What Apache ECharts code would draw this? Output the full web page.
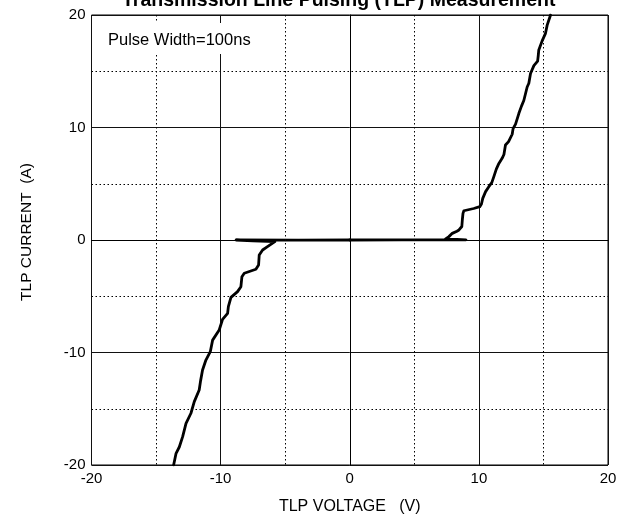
<!DOCTYPE html>
<html>
<head>
<meta charset="utf-8">
<script src="https://cdn.jsdelivr.net/npm/echarts@6/dist/echarts.min.js"></script>
<style>
html,body{margin:0;padding:0;background:#fff;}
#chart{width:624px;height:520px;}
</style>
</head>
<body>
<div id="chart"></div>
<script>
const titleText = 'Transmission Line Pulsing (TLP) Measurement';
const noteText = 'Pulse Width=100ns';
const xName = 'TLP VOLTAGE   (V)';
const yName = 'TLP CURRENT  (A)';
const xTicks = [-20, -10, 0, 10, 20];
const yTicks = [-20, -10, 0, 10, 20];

// positive pulse sweep: [voltage V, current A]
const positiveSweep = [
  [0,0],[4,0.01],[9.0,0.02],[8.3,0.06],[7.4,0.08],[7.5,0.2],[7.68,0.3],[7.94,0.59],
  [8.3,0.78],[8.46,0.89],[8.68,1.2],[8.72,1.8],[8.77,2.37],[8.84,2.6],[9.6,2.8],
  [10.07,2.96],[10.2,3.2],[10.3,3.7],[10.52,4.3],[10.77,4.74],[11.0,5.1],[11.16,5.63],
  [11.35,6.3],[11.55,6.81],[11.8,7.26],[11.94,7.6],[12.06,8.44],[12.3,8.75],[12.45,8.89],
  [12.58,9.4],[12.65,9.9],[12.84,10.3],[13.1,11.26],[13.3,11.9],[13.48,12.4],[13.74,13.6],
  [13.87,13.93],[14.0,14.8],[14.26,15.5],[14.55,15.9],[14.6,16.4],[14.64,16.89],[14.9,17.7],
  [15.16,18.37],[15.29,19.1],[15.55,20]
];
// negative pulse sweep: [voltage V, current A]
const negativeSweep = [
  [0,0],[-4,-0.01],[-8.8,0.0],[-7.5,-0.08],[-5.8,-0.15],[-5.85,-0.24],[-6.37,-0.59],
  [-6.75,-0.89],[-7.01,-1.33],[-7.06,-2.22],[-7.27,-2.6],[-8.17,-2.96],[-8.35,-3.26],
  [-8.43,-4.15],[-8.69,-4.59],[-9.2,-5.1],[-9.4,-5.93],[-9.46,-6.52],[-9.85,-7.05],
  [-10.11,-8.0],[-10.62,-8.9],[-10.8,-9.93],[-11.14,-10.67],[-11.4,-11.56],[-11.55,-12.5],
  [-11.66,-13.33],[-12.04,-14.37],[-12.3,-15.4],[-12.68,-16.3],[-12.94,-17.48],
  [-13.2,-18.4],[-13.45,-18.96],[-13.64,-20]
];

const FONT = 'Liberation Sans, Arial, sans-serif';
const chart = echarts.init(document.getElementById('chart'), null, {renderer:'canvas'});

function axisCommon(ticks, name) {
  return {
    type: 'value',
    min: ticks[0],
    max: ticks[ticks.length-1],
    interval: ticks[1]-ticks[0],
    name: name,
    nameLocation: 'middle',
    axisLine: {show: true, lineStyle: {color: '#000', width: 1}},
    axisTick: {show: false},
    minorTick: {show: false, splitNumber: 2},
    splitLine: {show: true, lineStyle: {color: '#111', width: 1, type: 'solid'}},
    minorSplitLine: {show: true, lineStyle: {color: '#000', width: 1, type: [1.5, 2.5]}},
    axisLabel: {color: '#000', fontFamily: FONT, fontSize: 15, margin: 6}
  };
}

const xAxis = axisCommon(xTicks, xName);
xAxis.nameGap = 34;
xAxis.nameTextStyle = {color:'#000', fontFamily: FONT, fontSize: 16};
const yAxis = axisCommon(yTicks, yName);
yAxis.nameGap = 57;
yAxis.nameTextStyle = {color:'#000', fontFamily: FONT, fontSize: 15.5, padding: [0,0,0,16]};

chart.setOption({
  animation: false,
  backgroundColor: '#fff',
  title: [
    {text: titleText, left: 122, top: -9, padding: 0,
     textStyle: {fontFamily: FONT, fontSize: 19.5, fontWeight: 'bold', color: '#000'}},
    {text: noteText, left: 100, top: 23, padding: [9, 8, 5, 8], backgroundColor: '#fff',
     textStyle: {fontFamily: FONT, fontSize: 16.5, fontWeight: 'normal', color: '#000'}}
  ],
  grid: {left: 91.5, right: 16, top: 15, bottom: 55, show: true, borderColor: '#000', borderWidth: 1, backgroundColor: 'transparent'},
  xAxis: xAxis,
  yAxis: yAxis,
  series: [
    {type: 'line', data: positiveSweep, showSymbol: false, symbol: 'none', smooth: false,
     lineStyle: {color: '#000', width: 2.8, join: 'round', cap: 'round'}, z: 5},
    {type: 'line', data: negativeSweep, showSymbol: false, symbol: 'none', smooth: false,
     lineStyle: {color: '#000', width: 2.8, join: 'round', cap: 'round'}, z: 5}
  ]
});
</script>
</body>
</html>
